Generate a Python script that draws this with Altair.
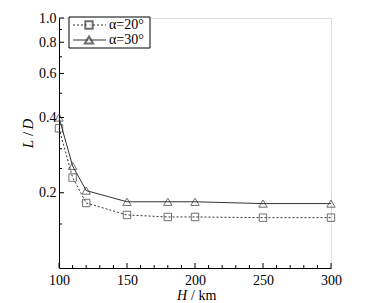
import altair as alt
import pandas as pd

heights = [100, 110, 120, 150, 180, 200, 250, 300]
ld_20 = [0.362, 0.230, 0.182, 0.163, 0.160, 0.160, 0.159, 0.159]
ld_30 = [0.400, 0.256, 0.204, 0.184, 0.184, 0.184, 0.181, 0.181]
series_names = ["α=20°", "α=30°"]

y_major = [0.2, 0.4, 0.6, 0.8, 1.0]
y_minor = [0.15, 0.25, 0.3, 0.5, 0.7, 0.9]
x_major = [100, 150, 200, 250, 300]
x_minor = [v for v in range(110, 300, 10) if v % 50 != 0]

FONT = "Times New Roman, Liberation Serif, Times, serif"
W, H = 272, 250

df = pd.DataFrame({
    "H": heights * 2,
    "LD": ld_20 + ld_30,
    "s": [series_names[0]] * len(heights) + [series_names[1]] * len(heights),
})

xs = alt.Scale(domain=[100, 300], nice=False, zero=False)
ys = alt.Scale(type="log", domain=[0.1, 1.0], nice=False)

xaxis = alt.Axis(values=x_major, format="d", title=None, grid=False, tickSize=0,
                 labelFont=FONT, labelFontSize=14, labelColor="black", labelPadding=5,
                 labelFlush=False, labelOverlap=False,
                 domainColor="black", domainWidth=1)
yaxis = alt.Axis(values=y_major, format=".1f", title=None, grid=False, tickSize=0,
                 labelFont=FONT, labelFontSize=14, labelColor="black", labelPadding=3,
                 labelFlush=False, labelOverlap=False,
                 domainColor="black", domainWidth=1)

d20 = df[df.s == series_names[0]]
d30 = df[df.s == series_names[1]]

line20 = alt.Chart(d20).mark_line(color="#333", strokeWidth=1, strokeDash=[2, 2]).encode(
    x=alt.X("H:Q", scale=xs, axis=xaxis), y=alt.Y("LD:Q", scale=ys, axis=yaxis))
pts20 = alt.Chart(d20).mark_point(shape="square", size=55, color="#333", filled=False, strokeWidth=1).encode(
    x=alt.X("H:Q", scale=xs), y=alt.Y("LD:Q", scale=ys))
line30 = alt.Chart(d30).mark_line(color="#333", strokeWidth=1).encode(
    x=alt.X("H:Q", scale=xs), y=alt.Y("LD:Q", scale=ys))
pts30 = alt.Chart(d30).mark_point(shape="triangle-up", size=70, color="#333", filled=False, strokeWidth=1).encode(
    x=alt.X("H:Q", scale=xs), y=alt.Y("LD:Q", scale=ys))

# inward ticks
ymaj = alt.Chart(pd.DataFrame({"v": y_major})).mark_rule(color="black", strokeWidth=1).encode(
    y=alt.Y("v:Q", scale=ys), x=alt.value(0), x2=alt.value(5))
ymin = alt.Chart(pd.DataFrame({"v": y_minor})).mark_rule(color="black", strokeWidth=1).encode(
    y=alt.Y("v:Q", scale=ys), x=alt.value(0), x2=alt.value(3))
xmaj = alt.Chart(pd.DataFrame({"v": x_major})).mark_rule(color="black", strokeWidth=1).encode(
    x=alt.X("v:Q", scale=xs), y=alt.value(H), y2=alt.value(H - 5))
xmin = alt.Chart(pd.DataFrame({"v": x_minor})).mark_rule(color="black", strokeWidth=1).encode(
    x=alt.X("v:Q", scale=xs), y=alt.value(H), y2=alt.value(H - 3))

# legend
leg_box = alt.Chart(pd.DataFrame({"a": [0]})).mark_rect(fill="white", stroke="black", strokeWidth=1).encode(
    x=alt.value(10), x2=alt.value(91), y=alt.value(-1), y2=alt.value(30))
leg_l1 = alt.Chart(pd.DataFrame({"a": [0]})).mark_rule(color="#333", strokeWidth=1, strokeDash=[2, 2]).encode(
    x=alt.value(14), x2=alt.value(47), y=alt.value(7))
leg_l2 = alt.Chart(pd.DataFrame({"a": [0]})).mark_rule(color="#333", strokeWidth=1).encode(
    x=alt.value(14), x2=alt.value(47), y=alt.value(22))
leg_p1 = alt.Chart(pd.DataFrame({"a": [0]})).mark_point(shape="square", size=55, color="#333", filled=False, fill="white").encode(
    x=alt.value(30), y=alt.value(7))
leg_p2 = alt.Chart(pd.DataFrame({"a": [0]})).mark_point(shape="triangle-up", size=70, color="#333", filled=False, fill="white").encode(
    x=alt.value(30), y=alt.value(22))
leg_t = alt.Chart(pd.DataFrame({"t": series_names, "yy": [7, 22]})).mark_text(
    font=FONT, fontSize=14, align="left", baseline="middle", color="black").encode(
    x=alt.value(50), y=alt.Y("yy:Q", scale=None), text="t:N")

# axis titles with italic symbols
xt1 = alt.Chart(pd.DataFrame({"a": [0]})).mark_text(font=FONT, fontSize=14, fontStyle="italic",
    align="left", baseline="middle", color="black", text="H").encode(x=alt.value(118), y=alt.value(278))
xt2 = alt.Chart(pd.DataFrame({"a": [0]})).mark_text(font=FONT, fontSize=14,
    align="left", baseline="middle", color="black", text="/ km").encode(x=alt.value(132), y=alt.value(278))
yt1 = alt.Chart(pd.DataFrame({"a": [0]})).mark_text(font=FONT, fontSize=15, fontStyle="italic", angle=270,
    align="center", baseline="middle", color="black", text="L").encode(x=alt.value(-31), y=alt.value(126))
yt2 = alt.Chart(pd.DataFrame({"a": [0]})).mark_text(font=FONT, fontSize=15, angle=270,
    align="center", baseline="middle", color="black", text="/").encode(x=alt.value(-31), y=alt.value(116))
yt3 = alt.Chart(pd.DataFrame({"a": [0]})).mark_text(font=FONT, fontSize=15, fontStyle="italic", angle=270,
    align="center", baseline="middle", color="black", text="D").encode(x=alt.value(-31), y=alt.value(106))

chart = alt.layer(
    line20, line30, pts20, pts30, ymaj, ymin, xmaj, xmin,
    leg_box, leg_l1, leg_l2, leg_p1, leg_p2, leg_t, xt1, xt2, yt1, yt2, yt3
).properties(
    width=W, height=H,
    autosize=alt.AutoSizeParams(type="none"),
    padding={"left": 59, "top": 18, "right": 50, "bottom": 35},
).configure_view(stroke=None).configure(background="white")

chart.save("out.html", embed_options={"renderer": "svg", "actions": False})
